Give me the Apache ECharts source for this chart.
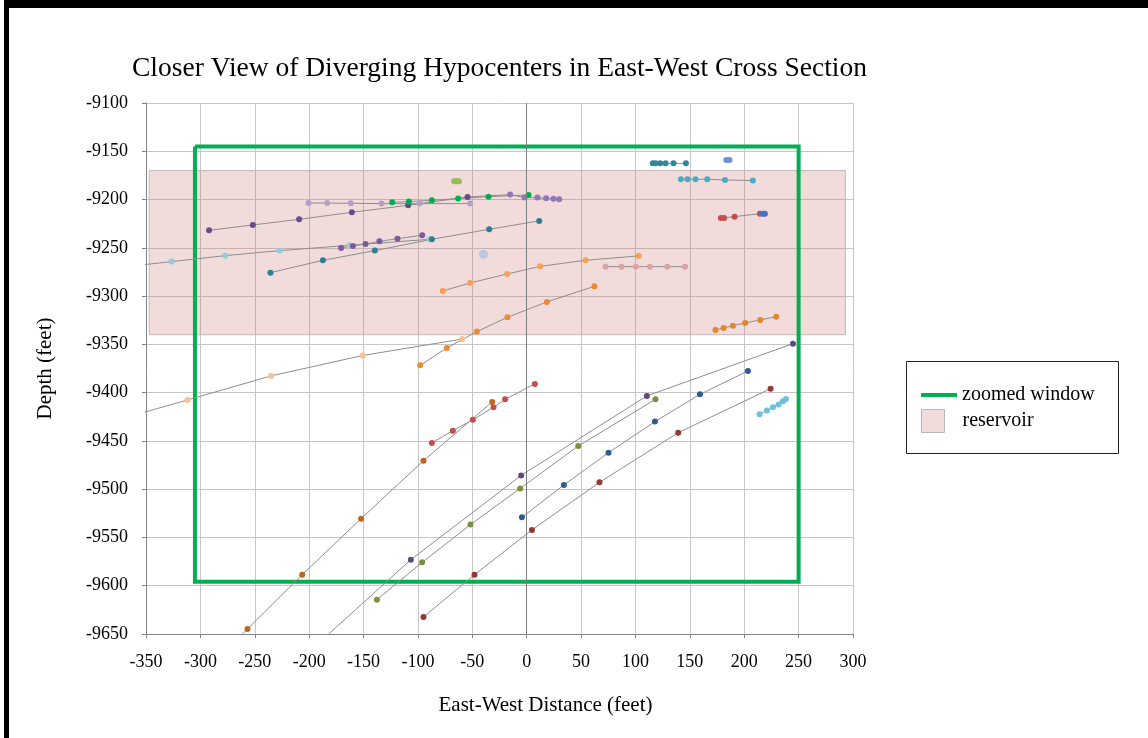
<!DOCTYPE html>
<html>
<head>
<meta charset="utf-8">
<title>Closer View of Diverging Hypocenters</title>
<script src="https://cdn.jsdelivr.net/npm/echarts@6/dist/echarts.min.js"></script>
<style>
  html, body { margin: 0; padding: 0; background: #ffffff; }
  #chart { width: 1148px; height: 738px; }
</style>
</head>
<body>
<div id="chart"></div>
<script>
// ---- Hypocenter tracks: east-west distance (ft) and depth (ft) ----
const lavenderX = [-200.6, -183.4, -161.7, -133.5, -98.4, -52];
const lavenderY = [-9203.6, -9203.6, -9203.9, -9204.2, -9204.2, -9204.2];

const greenX = [-123.7, -108.3, -87.2, -63, -35.1, 1.7];
const greenY = [-9202.9, -9202.1, -9200.8, -9199, -9197, -9195.2];

const purpleUpperX = [-292, -251.8, -209.2, -160.7, -109, -54.4, -15.2, -2, 9.9, 17.9, 24.6, 29.9];
const purpleUpperY = [-9231.9, -9226.3, -9220.5, -9213.2, -9206, -9197.3, -9194.9, -9198, -9198, -9198.7, -9199.3, -9199.8];

const purpleMidX = [-170.6, -159.8, -148.2, -135.4, -118.8, -96.1];
const purpleMidY = [-9250.1, -9248.1, -9246, -9243.3, -9240.5, -9237];

const lightBlueX = [-380, -326.6, -277.2, -227, -162.9, -89.4];
const lightBlueY = [-9271, -9264.3, -9258.1, -9252.9, -9247.4, -9241.2];

const tealX = [-235.6, -187.4, -139.6, -87.2, -34.5, 11.5];
const tealY = [-9275.7, -9263, -9252.9, -9241.2, -9230.8, -9222.1];

const periwinkleX = [-39.7];
const periwinkleY = [-9256.7];

const oliveClusterX = [-66.7, -65.2, -63.8, -62.3];
const oliveClusterY = [-9181.1, -9181.1, -9181.1, -9181.1];

const orangeUpperX = [-77.1, -52, -17.9, 12.4, 54.1, 102.9];
const orangeUpperY = [-9294.7, -9286.4, -9277.1, -9269.2, -9262.9, -9258.4];

const orangeLowerX = [-97.9, -73.4, -45.8, -17.7, 18.6, 62.3];
const orangeLowerY = [-9371.7, -9353.7, -9336.8, -9322, -9306, -9289.9];

const peachX = [-400, -312, -235, -150.7, -59.3];
const peachY = [-9436, -9407.6, -9382.7, -9361.5, -9344.5];

const pinkX = [72.5, 87.2, 100.4, 113.3, 129.2, 145.5];
const pinkY = [-9269.5, -9269.5, -9269.5, -9269.5, -9269.5, -9269.5];

const redX = [-87.2, -67.9, -49.5, -30.5, -19.8, 7.5];
const redY = [-9452.1, -9439.4, -9428, -9415.2, -9406.9, -9391];

const rustX = [-290, -256.7, -206.4, -152.2, -94.9, -31.7];
const rustY = [-9682, -9644.8, -9588.6, -9530.5, -9470.5, -9409.6];

const purpleLowerX = [-230, -106.5, -5.1, 110.5, 244.8];
const purpleLowerY = [-9699, -9573, -9485.7, -9403.4, -9349.3];

const oliveX = [-137.7, -96.1, -51.7, -6, 47.4, 118.4];
const oliveY = [-9614.4, -9575.8, -9536.7, -9499.2, -9455.3, -9406.9];

const navyX = [-4.4, 34.2, 75.2, 117.9, 159.3, 203.4];
const navyY = [-9529.2, -9495.6, -9462.2, -9430, -9401.8, -9377.5];

const maroonX = [-94.9, -48, 4.8, 66.9, 139.3, 224.2];
const maroonY = [-9632.4, -9588.6, -9542.2, -9492.9, -9441.5, -9395.9];

const cyanClusterX = [214.1, 220.9, 226.4, 231.6, 235.6, 238.3];
const cyanClusterY = [-9422.5, -9418.4, -9415.2, -9412.4, -9409, -9406.5];

const tealTopX = [116, 118.4, 122.8, 127.7, 135, 146.4];
const tealTopY = [-9162.5, -9162.5, -9162.5, -9162.5, -9162.5, -9162.5];

const blueTopX = [183.5, 186.5];
const blueTopY = [-9159, -9159];

const cyanLineX = [141.8, 147.9, 155.2, 166, 182.3, 208];
const cyanLineY = [-9179, -9179, -9179, -9179, -9179.7, -9180.4];

const redRightX = [178.5, 181.5, 191.1, 214.4];
const redRightY = [-9219, -9219, -9217.7, -9214.6];

const blueRightX = [217, 219];
const blueRightY = [-9214.6, -9214.6];

const orangeRightX = [173.6, 181, 189.6, 200.9, 214.7, 229.4];
const orangeRightY = [-9335, -9333, -9330.6, -9327.8, -9324.7, -9321.3];

// ---- Outlined regions ----
const windowX = [-305, 250];          // zoomed window, west / east edge
const windowY = [-9145, -9596];       // zoomed window, top / bottom depth
const reservoirX = [-347, 293];
const reservoirY = [-9170, -9340];

// ---- Axis ranges ----
const xRange = [-350, 300];
const yRange = [-9650, -9100];
const tickStep = 50;

// ---- Styling ----
const SERIF = '"Liberation Serif", "Times New Roman", serif';
const trackStyles = [
  { x: lavenderX, y: lavenderY, color: '#b3a2c7' },
  { x: purpleUpperX, y: purpleUpperY, color: '#664d88', lateColor: '#8f79b5', split: 6 },
  { x: greenX, y: greenY, color: '#00b050' },
  { x: lightBlueX, y: lightBlueY, color: '#93cddd' },
  { x: tealX, y: tealY, color: '#2e7d95' },
  { x: purpleMidX, y: purpleMidY, color: '#7a5c9e' },
  { x: periwinkleX, y: periwinkleY, color: '#b9c6e4', size: 9 },
  { x: oliveClusterX, y: oliveClusterY, color: '#9bbb59' },
  { x: orangeUpperX, y: orangeUpperY, color: '#f6a15a' },
  { x: peachX, y: peachY, color: '#fac090' },
  { x: orangeLowerX, y: orangeLowerY, color: '#ee8a33' },
  { x: pinkX, y: pinkY, color: '#dba3a1' },
  { x: redX, y: redY, color: '#c0504d' },
  { x: rustX, y: rustY, color: '#c0651f' },
  { x: purpleLowerX, y: purpleLowerY, color: '#5f4a7b' },
  { x: oliveX, y: oliveY, color: '#77933c' },
  { x: navyX, y: navyY, color: '#2f5d92' },
  { x: maroonX, y: maroonY, color: '#953735' },
  { x: cyanClusterX, y: cyanClusterY, color: '#6fc0d8' },
  { x: tealTopX, y: tealTopY, color: '#31859c' },
  { x: blueTopX, y: blueTopY, color: '#6f8fcf' },
  { x: cyanLineX, y: cyanLineY, color: '#4bacc6' },
  { x: redRightX, y: redRightY, color: '#c0504d' },
  { x: blueRightX, y: blueRightY, color: '#4472c4' },
  { x: orangeRightX, y: orangeRightY, color: '#e3862e' }
];

function trackSeries(t, i) {
  const data = t.x.map((xv, k) => {
    const item = { value: [xv, t.y[k]] };
    if (t.split !== undefined && k >= t.split) item.itemStyle = { color: t.lateColor };
    return item;
  });
  return {
    name: 'track' + i,
    type: 'line',
    data: data,
    symbol: 'circle',
    symbolSize: t.size || 6,
    showSymbol: true,
    clip: true,
    z: 4,
    lineStyle: { color: '#8e8e8e', width: 1 },
    itemStyle: { color: t.color },
    emphasis: { disabled: true }
  };
}

const series = [];

// Reservoir band (drawn under the grid lines)
series.push({
  name: 'reservoir',
  type: 'line',
  data: [],
  z: -1,
  itemStyle: { color: '#f2dcdb' },
  markArea: {
    silent: true,
    itemStyle: { color: 'rgba(200,110,110,0.25)', borderColor: '#c4b8b8', borderWidth: 1 },
    data: [[{ coord: [reservoirX[0], reservoirY[0]] }, { coord: [reservoirX[1], reservoirY[1]] }]]
  }
});

// Vertical line at zero distance
series.push({
  name: 'zeroLine',
  type: 'line',
  data: [],
  z: 1,
  markLine: {
    silent: true,
    symbol: ['none', 'none'],
    label: { show: false },
    lineStyle: { color: '#7f7f7f', width: 1, type: 'solid' },
    data: [{ xAxis: 0 }]
  }
});

// Zoomed window outline
series.push({
  name: 'zoomed window',
  type: 'line',
  data: [
    [windowX[0], windowY[0]], [windowX[1], windowY[0]],
    [windowX[1], windowY[1]], [windowX[0], windowY[1]], [windowX[0], windowY[0]]
  ],
  showSymbol: false,
  z: 3,
  itemStyle: { color: '#00b050' },
  lineStyle: { color: '#00b050', width: 4, join: 'miter' },
  emphasis: { disabled: true }
});

trackStyles.forEach((t, i) => series.push(trackSeries(t, i)));

const plainNumber = v => String(v);

const chart = echarts.init(document.getElementById('chart'), null, { renderer: 'canvas' });
chart.setOption({
  animation: false,
  backgroundColor: '#ffffff',
  title: {
    text: 'Closer View of Diverging Hypocenters in East-West Cross Section',
    left: 127,
    top: 50,
    textStyle: { fontFamily: SERIF, fontSize: 27.5, fontWeight: 'normal', color: '#000000' }
  },
  grid: { left: 146, right: 295, top: 103, bottom: 104, containLabel: false },
  xAxis: {
    type: 'value',
    min: xRange[0], max: xRange[1], interval: tickStep,
    name: 'East-West Distance (feet)',
    nameLocation: 'middle',
    nameGap: 61,
    nameTextStyle: { fontFamily: SERIF, fontSize: 21, color: '#000000', padding: [0, 0, 0, 92] },
    axisLine: { show: true, onZero: false, lineStyle: { color: '#868686', width: 1 } },
    axisTick: { show: true, length: 4, lineStyle: { color: '#868686' } },
    axisLabel: { fontFamily: SERIF, fontSize: 18, color: '#000000', margin: 19, formatter: plainNumber },
    splitLine: { show: true, lineStyle: { color: '#c6c6c6', width: 1 } }
  },
  yAxis: {
    type: 'value',
    min: yRange[0], max: yRange[1], interval: tickStep,
    name: 'Depth (feet)',
    nameLocation: 'middle',
    nameRotate: 90,
    nameGap: 90,
    nameTextStyle: { fontFamily: SERIF, fontSize: 21, color: '#000000' },
    axisLine: { show: true, onZero: false, lineStyle: { color: '#868686', width: 1 } },
    axisTick: { show: true, length: 4, lineStyle: { color: '#868686' } },
    axisLabel: { fontFamily: SERIF, fontSize: 18, color: '#000000', margin: 18, formatter: plainNumber },
    splitLine: { show: true, lineStyle: { color: '#c6c6c6', width: 1 } }
  },
  legend: [
    {
      data: [{ name: 'zoomed window', icon: 'rect' }],
      left: 916, top: 380,
      itemWidth: 36, itemHeight: 4,
      selectedMode: false,
      textStyle: { fontFamily: SERIF, fontSize: 20, color: '#000000' }
    },
    {
      data: [{ name: 'reservoir', icon: 'rect' }],
      left: 916, top: 404,
      itemWidth: 23, itemHeight: 23,
      selectedMode: false,
      itemStyle: { borderColor: '#bdb5b5', borderWidth: 1 },
      textStyle: { fontFamily: SERIF, fontSize: 20, color: '#000000', padding: [0, 0, 0, 13] }
    }
  ],
  graphic: [
    { type: 'rect', left: 4, top: 0, shape: { width: 1144, height: 8 }, style: { fill: '#000000' }, silent: true },
    { type: 'rect', left: 4, top: 0, shape: { width: 5, height: 738 }, style: { fill: '#000000' }, silent: true },
    { type: 'rect', left: 904, top: 359, shape: { width: 212, height: 92 },
      style: { fill: 'none', stroke: '#222222', lineWidth: 1 }, silent: true, z: 0 }
  ],
  series: series
});
</script>
</body>
</html>
